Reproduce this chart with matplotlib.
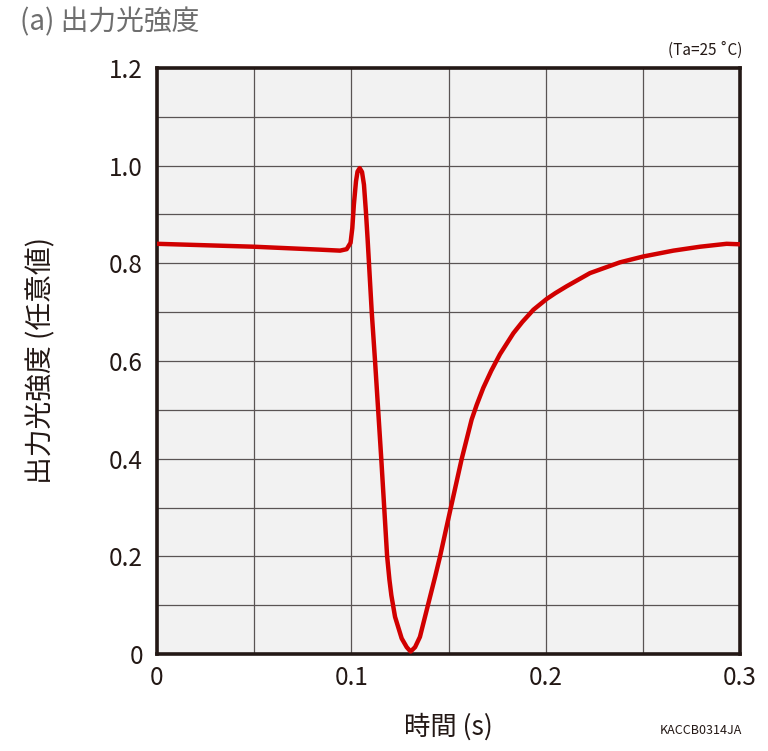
import numpy as np
import matplotlib.pyplot as plt
from matplotlib.ticker import MultipleLocator

plt.rcParams['font.family'] = ['Noto Sans CJK JP', 'DejaVu Sans']

# time (s) and relative light output
t = [0, 0.05, 0.0839, 0.0942, 0.0976, 0.0996, 0.1005, 0.1013, 0.1024,
     0.1032, 0.1043, 0.1055, 0.1065, 0.1075, 0.1084, 0.1105, 0.1122, 0.1138,
     0.1154, 0.1169, 0.1184, 0.1196, 0.1206, 0.1225, 0.1259, 0.1285, 0.1305,
     0.1328, 0.1353, 0.1379, 0.1405, 0.1431, 0.1456, 0.1511, 0.1567, 0.1619,
     0.1645, 0.1679, 0.1720, 0.1765, 0.1834, 0.188, 0.1937, 0.2005, 0.205,
     0.2108, 0.2228, 0.2382, 0.2502, 0.2657, 0.2794, 0.2931, 0.3]
light = [0.840, 0.834, 0.828, 0.826, 0.829, 0.842, 0.872, 0.920, 0.968,
         0.988, 0.995, 0.987, 0.961, 0.906, 0.848, 0.700, 0.600, 0.500,
         0.400, 0.301, 0.201, 0.152, 0.120, 0.076, 0.032, 0.014, 0.005,
         0.014, 0.035, 0.076, 0.117, 0.158, 0.199, 0.298, 0.398, 0.480,
         0.510, 0.545, 0.580, 0.614, 0.657, 0.680, 0.705, 0.727, 0.739,
         0.753, 0.780, 0.802, 0.814, 0.826, 0.834, 0.840, 0.839]

xticks = [0, 0.1, 0.2, 0.3]
xticklabels = ['0', '0.1', '0.2', '0.3']
yticks = [0, 0.2, 0.4, 0.6, 0.8, 1.0, 1.2]
yticklabels = ['0', '0.2', '0.4', '0.6', '0.8', '1.0', '1.2']

fig = plt.figure(figsize=(7.68, 7.51), dpi=100)
ax = fig.add_axes([157/768, 1-654/751, 583/768, 586/751])
ax.set_facecolor('#f2f2f2')

ax.plot(t, light, color='#d10000', lw=3.2, solid_joinstyle='round',
        solid_capstyle='round', zorder=3)

ax.set_xlim(0, 0.3)
ax.set_ylim(0, 1.2)
ax.set_xticks(xticks)
ax.set_xticklabels(xticklabels)
ax.set_yticks(yticks)
ax.set_yticklabels(yticklabels)
ax.xaxis.set_minor_locator(MultipleLocator(0.05))
ax.yaxis.set_minor_locator(MultipleLocator(0.1))
ax.grid(which='both', color='#5a5454', lw=0.9)
ax.tick_params(which='both', length=0)
ax.tick_params(axis='x', labelsize=17.5, pad=8, colors='#231815')
ax.tick_params(axis='y', labelsize=17.5, pad=10, colors='#231815')
for s in ax.spines.values():
    s.set_linewidth(2.6)
    s.set_color('#231815')

ax.set_xlabel('時間 (s)', fontsize=19, labelpad=16, color='#231815')
ax.set_ylabel('出力光強度 (任意値)', fontsize=20, labelpad=38, color='#231815')

fig.text(20/768, 1-22/751, '(a) 出力光強度', fontsize=20, color='#6e6e6e',
         va='center', ha='left')
fig.text(742/768, 1-50/751, '(Ta=25 ˚C)', fontsize=11, color='#231815',
         va='center', ha='right')
fig.text(742/768, 1-730/751, 'KACCB0314JA', fontsize=9, color='#231815',
         va='center', ha='right')

fig.savefig('out.png', dpi=100)
